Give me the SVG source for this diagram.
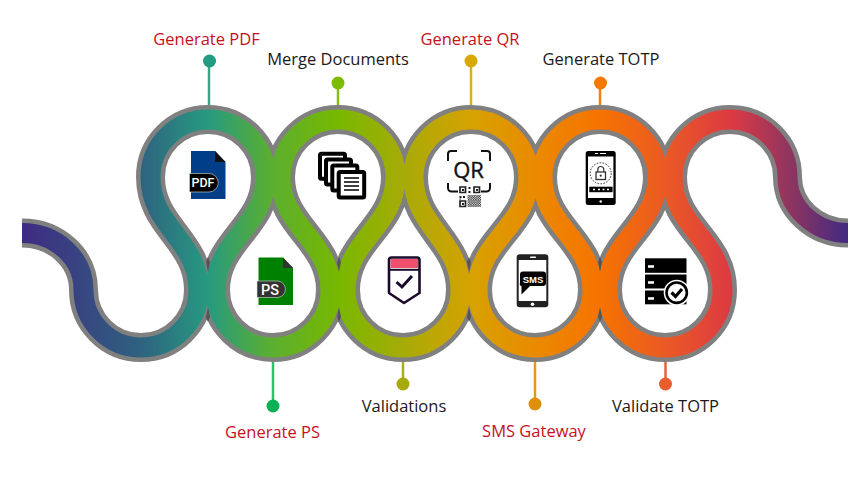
<svg xmlns="http://www.w3.org/2000/svg" width="868" height="499" viewBox="0 0 868 499">
<style>
.lbl{font-family:"Open Sans","Liberation Sans",sans-serif;font-size:16.5px;text-anchor:middle}
.red{fill:#c8101c}.blk{fill:#1a1a1a}
.rib{fill:none;stroke-linecap:butt;stroke-linejoin:round}
.stem{stroke-width:2.5;fill:none}
.tip{fill:#555}
.badge{font-family:"Roboto","Liberation Sans",sans-serif;font-weight:500;fill:#fff;text-anchor:middle}
.pg{fill:#fff;stroke:#000;stroke-width:4;stroke-linejoin:round}
</style>
<defs>
<linearGradient id="g" gradientUnits="userSpaceOnUse" x1="22" y1="0" x2="848" y2="0">
<stop offset="0" stop-color="#402a82"/>
<stop offset="0.14" stop-color="#2f6080"/>
<stop offset="0.225" stop-color="#269a80"/>
<stop offset="0.30" stop-color="#5aae32"/>
<stop offset="0.383" stop-color="#78b800"/>
<stop offset="0.46" stop-color="#a6ab08"/>
<stop offset="0.544" stop-color="#d6a200"/>
<stop offset="0.62" stop-color="#ea8a00"/>
<stop offset="0.70" stop-color="#f67300"/>
<stop offset="0.778" stop-color="#ea5a24"/>
<stop offset="0.857" stop-color="#dd3a42"/>
<stop offset="0.93" stop-color="#8f3560"/>
<stop offset="1" stop-color="#402a82"/>
</linearGradient>
<path id="r" d="M22,233 C56,233 83.5,258 83.5,290 A57.5,57.5 0 0 0 198.5,290 C198.5,240 150.5,227 150.5,177 A57.5,57.5 0 0 1 265.5,177 C265.5,227 215.5,240 215.5,290 A57.5,57.5 0 0 0 330.5,290 C330.5,240 280.5,227 280.5,177 A57.5,57.5 0 0 1 395.5,177 C395.5,227 345.5,240 345.5,290 A57.5,57.5 0 0 0 460.5,290 C460.5,240 413.5,227 413.5,177 A57.5,57.5 0 0 1 528.5,177 C528.5,227 477.5,240 477.5,290 A57.5,57.5 0 0 0 592.5,290 C592.5,240 542.5,227 542.5,177 A57.5,57.5 0 0 1 657.5,177 C657.5,227 607.5,240 607.5,290 A57.5,57.5 0 0 0 722.5,290 C722.5,240 672.5,227 672.5,177 A57.5,57.5 0 0 1 787.5,177 C787.5,208 815,233 848,233"/>
<pattern id="dith" width="2.4" height="2.4" patternUnits="userSpaceOnUse"><rect width="1.3" height="1.3" fill="#222"/><rect x="1.2" y="1.2" width="1.2" height="1.2" fill="#222"/></pattern>
</defs>
<g id="ribbon">
<use href="#r" class="rib" stroke="#808080" stroke-width="29"/>
<use href="#r" class="rib" stroke="url(#g)" stroke-width="20"/>
<path class="tip" d="M208,257l2,5l-2,10l-2,-10zM208,322l2,-5l-2,-10l-2,10zM339,257l2,5l-2,10l-2,-10zM339,322l2,-5l-2,-10l-2,10zM469,257l2,5l-2,10l-2,-10zM469,322l2,-5l-2,-10l-2,10zM600,257l2,5l-2,10l-2,-10zM600,322l2,-5l-2,-10l-2,10z"/>
</g>
<g id="connectors">
<path class="stem" stroke="#35a885" d="M209,61V105"/>
<path class="stem" stroke="#86bf10" d="M338,83V105"/>
<path class="stem" stroke="#dcae1a" d="M471,61V105"/>
<path class="stem" stroke="#f57c10" d="M600,83V105"/>
<path class="stem" stroke="#2bc36c" d="M273,362V406"/>
<path class="stem" stroke="#a5b01c" d="M403,362V384"/>
<path class="stem" stroke="#e4981e" d="M535,362V404"/>
<path class="stem" stroke="#e9603a" d="M665.5,362V384"/>
</g>
<g id="node-generate-pdf">
<text class="lbl red" x="206.500" y="45">Generate PDF</text>
<circle cx="209.500" cy="61" r="6.500" fill="#229c80"/>
<path d="M191,151H215L225.500,162V199H191Z" fill="#003f87"/>
<path d="M215,151L225.500,162H215Z" fill="#111"/>
<path d="M189.500,173.500H209a9,9 0 0 1 0,18.500H189.500Z" fill="#000" stroke="#ddd" stroke-width="0.6"/>
<text class="badge" x="203" y="187" font-size="12.500">PDF</text>
</g>
<g id="node-generate-ps">
<text class="lbl red" x="272.500" y="438">Generate PS</text>
<circle cx="273" cy="406" r="6.500" fill="#0db155"/>
<path d="M258.500,257.500H283L293,268V305H258.500Z" fill="#008000"/>
<path d="M283,257.500L293,268H283Z" fill="#333"/>
<path d="M257,281H278a8.300,8.300 0 0 1 0,16.500H257Z" fill="#333" stroke="#ddd" stroke-width="0.6"/>
<text class="badge" x="270" y="294.500" font-size="14.500">PS</text>
</g>
<g id="node-merge-documents">
<text class="lbl blk" x="338" y="65">Merge Documents</text>
<circle cx="338" cy="83" r="6.500" fill="#7cbb00"/>
<rect class="pg" x="320" y="153.700" width="25" height="25" rx="1.500"/>
<rect class="pg" x="326" y="159.500" width="25" height="25" rx="1.500"/>
<rect class="pg" x="332.300" y="165.500" width="25" height="25" rx="1.500"/>
<rect class="pg" x="338.700" y="172" width="25.500" height="25.500" rx="1.500"/>
<path d="M344,178H359M344,182H359M344,186H359M344,190H359" stroke="#000" stroke-width="1.500" fill="none"/>
</g>
<g id="node-validations">
<text class="lbl blk" x="404" y="412">Validations</text>
<circle cx="403" cy="384" r="6.500" fill="#a5ab0c"/>
<path d="M389,293V260a2.500,2.500 0 0 1 2.500,-2.500H417a2.500,2.500 0 0 1 2.500,2.500V293L404,303Z" fill="#fff" stroke="#1c0a2c" stroke-width="2.600" stroke-linejoin="round"/>
<rect x="390.500" y="259" width="27.500" height="9" fill="#f0506e"/>
<path d="M389,269.800H419.500" stroke="#1c0a2c" stroke-width="2"/>
<path d="M396.500,282L402,287L412,276" fill="none" stroke="#1c0a2c" stroke-width="3"/>
</g>
<g id="node-generate-qr">
<text class="lbl red" x="470" y="45">Generate QR</text>
<circle cx="471" cy="61" r="6.500" fill="#d9a800"/>
<path d="M448,161V154a3,3 0 0 1 3,-3H457M481,151H487a3,3 0 0 1 3,3V161M448,183V188a3.500,3.500 0 0 0 3.500,3.500H458M481,191.500H486.500a3.500,3.500 0 0 0 3.500,-3.500V183" fill="none" stroke="#111" stroke-width="2"/>
<text x="468.500" y="178" font-family="Open Sans,Liberation Sans,sans-serif" font-size="22" fill="#111" stroke="#111" stroke-width="0.4" text-anchor="middle">QR</text>
<path d="M460,187h5.500v5.500h-5.500zM474,187h5.500v5.500h-5.500zM460,201h5.500v5.500h-5.500z" fill="#fff" stroke="#222" stroke-width="1.700"/>
<path d="M462,189h2v2h-2zM476,189h2v2h-2zM462,203h2v2h-2zM468.500,187h2v2h-2zM468.500,191h2v2h-2zM459.500,196h2v2h-2zM463,196h2v2h-2zM459.500,198.500h1.500v1h-1.500z" fill="#222"/>
<rect x="467.500" y="195" width="13.500" height="12" fill="url(#dith)"/>
</g>
<g id="node-sms-gateway">
<text class="lbl red" x="534" y="437">SMS Gateway</text>
<circle cx="535" cy="404" r="6.500" fill="#e08f08"/>
<rect x="516.700" y="254.300" width="31.600" height="53" rx="3" fill="#222"/>
<rect x="518.700" y="260" width="27.600" height="41" fill="#fff"/>
<rect x="530" y="256.500" width="6" height="1.500" rx="0.700" fill="#fff"/>
<circle cx="532.500" cy="304.300" r="1.800" fill="#fff"/>
<path d="M523,271.500H543a3,3 0 0 1 3,3V283a3,3 0 0 1 -3,3H530L521.500,294.500V286a2,2 0 0 1 -1.500,-3V274.500a3,3 0 0 1 3,-3Z" fill="#000"/>
<text x="533" y="282.500" font-family="Liberation Sans,sans-serif" font-weight="700" font-size="9.500" fill="#fff" text-anchor="middle">SMS</text>
</g>
<g id="node-generate-totp">
<text class="lbl blk" x="601" y="65">Generate TOTP</text>
<circle cx="600.500" cy="83" r="6.500" fill="#f57800"/>
<rect x="585.700" y="151" width="30" height="54" rx="2.500" fill="#000"/>
<rect x="588" y="156.500" width="25.400" height="41.500" fill="#fff"/>
<path d="M595,153.500h3M600,153.500h6" stroke="#fff" stroke-width="1"/>
<circle cx="600.700" cy="173.300" r="10.500" fill="none" stroke="#333" stroke-width="1" stroke-dasharray="1.600 1.400"/>
<rect x="596" y="172" width="9.500" height="7.500" fill="none" stroke="#333" stroke-width="1.300"/>
<path d="M597.800,172v-2.500a3,3 0 0 1 6,0V172" fill="none" stroke="#333" stroke-width="1.200"/>
<circle cx="600.700" cy="175.700" r="1.100" fill="#333"/>
<rect x="589.300" y="186.700" width="23.300" height="5.500" fill="#000"/>
<path d="M593,189.500h2M598,189.500h2M602.500,189.500h2M607,189.500h2" stroke="#fff" stroke-width="1.600"/>
<circle cx="600.700" cy="201.500" r="1.200" fill="#fff"/>
</g>
<g id="node-validate-totp">
<text class="lbl blk" x="665.500" y="412">Validate TOTP</text>
<circle cx="665.500" cy="384" r="6.500" fill="#e95d2c"/>
<rect x="645" y="258.300" width="41.500" height="14.500" fill="#000"/>
<rect x="645" y="274.500" width="41.500" height="14" fill="#000"/>
<rect x="645" y="290.500" width="41.500" height="13.800" fill="#000"/>
<path d="M648,266.500h6M648,282.500h6M648,298.500h6" stroke="#fff" stroke-width="2.500"/>
<circle cx="676.700" cy="292.700" r="13" fill="#fff"/>
<circle cx="676.700" cy="292.700" r="10.200" fill="#fff" stroke="#000" stroke-width="2.600"/>
<path d="M671.500,292.500L675.500,296.500L682,289" fill="none" stroke="#000" stroke-width="3.200"/>
</g>
</svg>
